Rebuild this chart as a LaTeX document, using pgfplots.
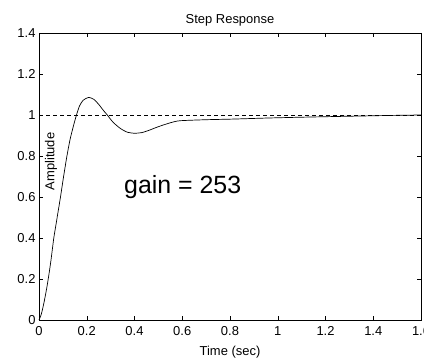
\documentclass[border=0pt]{standalone}
\usepackage{fontspec}
\setmainfont{Liberation Sans}
\usepackage{pgfplots}
\pgfplotsset{compat=1.18}
\begin{document}
\begin{tikzpicture}
\begin{axis}[
  at={(0,0)}, anchor=south west,
  scale only axis,
  width=382bp, height=287bp,
  xmin=0, xmax=1.6, ymin=0, ymax=1.4,
  xtick={0,0.2,...,1.6}, ytick={0,0.2,...,1.4},
  tick align=inside,
  major tick length=4bp,
  tick style={black, line width=0.5pt},
  axis line style={line width=0.8pt},
  xticklabels={0,0.2,0.4,0.6,0.8,1,1.2,1.4,1.6},
  yticklabels={0,0.2,0.4,0.6,0.8,1,1.2,1.4},
  /pgf/number format/assume math mode=true,
  tick label style={font=\fontsize{13}{15}\selectfont},
  xticklabel style={yshift=-3bp},
  title={Step Response},
  title style={font=\fontsize{13}{15}\selectfont, yshift=-3bp},
  xlabel={Time (sec)},
  xlabel style={font=\fontsize{13}{15}\selectfont, yshift=-4bp},
  clip=false,
]
\addplot[black, dash pattern=on 4bp off 3bp, line width=0.6pt] coordinates {(0,1) (1.6,1)};
\addplot[black, line width=0.7pt, smooth, tension=0.4] coordinates {
(0,0) (0.01,0.03) (0.02,0.08) (0.03,0.14) (0.04,0.21) (0.05,0.29) (0.062,0.40)
(0.076,0.50) (0.09,0.60) (0.103,0.70) (0.117,0.80) (0.13,0.88) (0.145,0.95)
(0.157,1.00) (0.17,1.045) (0.185,1.072) (0.208,1.086) (0.23,1.076) (0.25,1.052)
(0.27,1.022) (0.286,1.00) (0.31,0.965) (0.34,0.935) (0.37,0.916) (0.40,0.911)
(0.43,0.914) (0.46,0.925) (0.50,0.943) (0.55,0.962) (0.59,0.972) (0.7,0.977)
(0.81,0.980) (0.95,0.985) (1.09,0.989) (1.3,0.994) (1.48,0.998) (1.6,1.0)
};
\node[rotate=90, font=\fontsize{13}{15}\selectfont] at (axis cs:0.05,0.773) {Amplitude};
\node[anchor=base west, font=\fontsize{25}{30}\selectfont, inner sep=0pt] at (axis cs:0.356,0.615) {gain = 253};
\end{axis}
\pgfresetboundingbox
\path (-39bp,-40bp) rectangle (385bp,320bp);
\end{tikzpicture}
\end{document}
